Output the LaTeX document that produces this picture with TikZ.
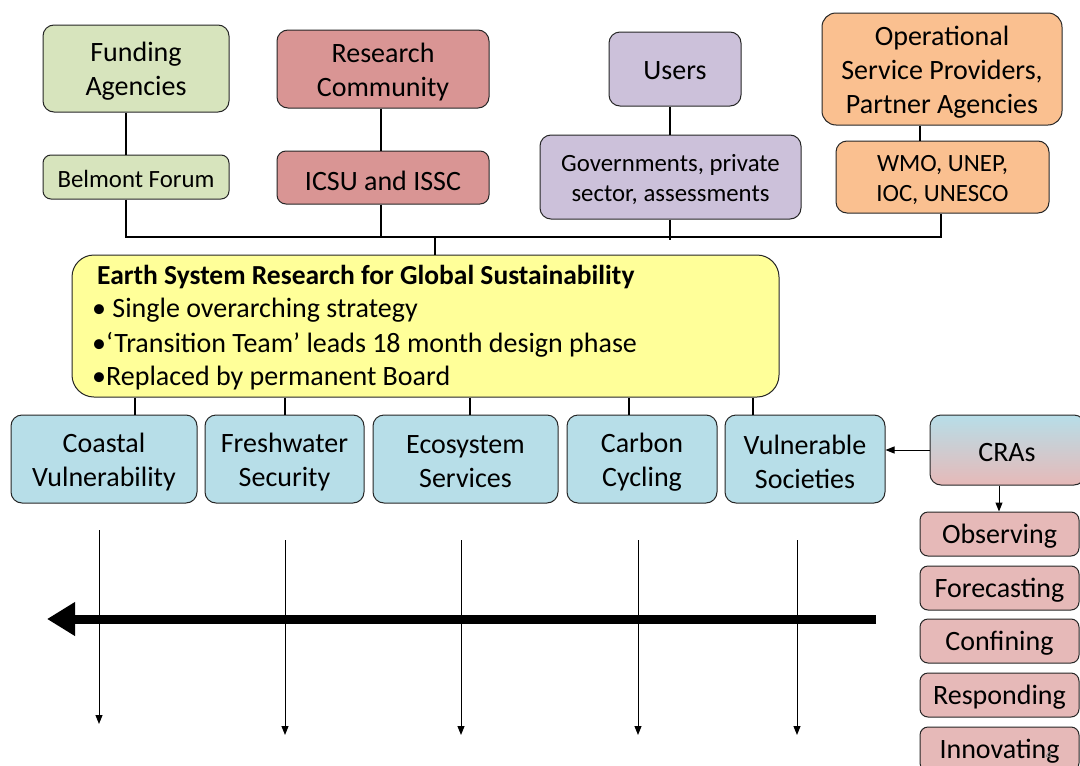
\documentclass[tikz,border=0pt]{standalone}
\usepackage{fontspec}
\setmainfont{Carlito}
\usetikzlibrary{arrows.meta,calc}
\definecolor{cgreen}{HTML}{D7E4BD}
\definecolor{cred}{HTML}{D99594}
\definecolor{clav}{HTML}{CCC1DA}
\definecolor{corange}{HTML}{FAC090}
\definecolor{cyellow}{HTML}{FFFF99}
\definecolor{cblue}{HTML}{B7DEE8}
\definecolor{cpink}{HTML}{E6B9B8}
\definecolor{cborder}{HTML}{262626}
\tikzset{
  box/.style={draw=cborder, line width=1pt, rounded corners=11pt, inner sep=0pt},
  bigtxt/.style={align=center, inner sep=0pt, yshift=-3pt, font=\fontsize{28}{34}\selectfont},
  smalltxt/.style={align=center, inner sep=0pt, yshift=-3pt, font=\fontsize{24.8}{30}\selectfont},
  conn/.style={draw=black, line width=1.3pt},
  thinarrow/.style={draw=black, line width=1pt, -{Triangle[length=9pt,width=7pt]}},
  bigarrow/.style={draw=black, line width=9pt, -{Triangle[length=28pt,width=32pt]}},
  bullettxt/.style={anchor=west, inner sep=0pt, font=\fontsize{28}{30}\selectfont},
}
\begin{document}
\begin{tikzpicture}[x=1pt,y=-1pt]
\useasboundingbox (0,0) rectangle (1080,766);
% top row
\node[box,fill=cgreen,minimum width=186pt,minimum height=87pt,label={[bigtxt]center:{Funding\\Agencies}}] (fund) at (136,68.5) {};
\node[box,fill=cgreen,minimum width=186pt,minimum height=44pt,rounded corners=8pt,label={[smalltxt,yshift=1pt]center:{Belmont Forum}}] (bel) at (136,177) {};
\node[box,fill=cred,minimum width=212pt,minimum height=78pt,label={[bigtxt]center:{Research\\Community}}] (res) at (383,69) {};
\node[box,fill=cred,minimum width=212pt,minimum height=53pt,rounded corners=9pt,label={[bigtxt]center:{ICSU and ISSC}}] (icsu) at (383,177.5) {};
\node[box,fill=clav,minimum width=132pt,minimum height=74pt,label={[bigtxt,yshift=1pt]center:{Users}}] (users) at (675,69) {};
\node[box,fill=clav,minimum width=261pt,minimum height=84pt,label={[smalltxt]center:{Governments, private\\sector, assessments}}] (gov) at (670.5,177) {};
\node[box,fill=corange,minimum width=240pt,minimum height=112pt,rounded corners=14pt,label={[bigtxt]center:{Operational\\Service Providers,\\Partner Agencies}}] (ops) at (942,69) {};
\node[box,fill=corange,minimum width=213pt,minimum height=72pt,label={[smalltxt]center:{WMO, UNEP,\\IOC, UNESCO}}] (wmo) at (942.5,177) {};
% bus
\coordinate (b1) at (126,237);
\coordinate (b2) at (381,237);
\coordinate (b3) at (670,240);
\coordinate (b4) at (941,237);
\coordinate (bm) at (435,237);
\draw[conn] (fund.south -| b1) -- (bel.north -| b1);
\draw[conn] (res.south -| b2) -- (icsu.north -| b2);
\draw[conn] (users.south -| b3) -- (gov.north -| b3);
\draw[conn] (ops.south -| 920,0) -- (wmo.north -| 920,0);
\draw[conn] (bel.south -| b1) -- (b1) -- (b1 -| b4) -- (wmo.south -| b4);
\draw[conn] (icsu.south -| b2) -- (b2);
\draw[conn] (gov.south -| b3) -- (b3);
% main box
\node[box,fill=cyellow,minimum width=707pt,minimum height=142pt,rounded corners=22pt] (main) at (425.5,326) {};
\draw[conn] (bm) -- (main.north -| bm);
\node[anchor=west,inner sep=0pt,font=\fontsize{27.5}{30}\selectfont\bfseries] (title) at (97,277) {Earth System Research for Global Sustainability};
\node[bullettxt] (bl1) at (92,310.5) {• Single overarching strategy};
\node[bullettxt] (bl2) at (92,344.5) {•‘Transition Team’ leads 18 month design phase};
\node[bullettxt] (bl3) at (92,378.5) {•Replaced by permanent Board};
% themes
\node[box,fill=cblue,minimum width=186pt,minimum height=88pt,label={[bigtxt]center:{Coastal\\Vulnerability}}] (coast) at (104,459) {};
\node[box,fill=cblue,minimum width=159pt,minimum height=88pt,label={[bigtxt]center:{Freshwater\\Security}}] (fresh) at (284.5,459) {};
\node[box,fill=cblue,minimum width=185pt,minimum height=88pt,label={[bigtxt]center:{Ecosystem\\Services}}] (eco) at (465.5,459) {};
\node[box,fill=cblue,minimum width=150pt,minimum height=88pt,label={[bigtxt]center:{Carbon\\Cycling}}] (carb) at (642,459) {};
\node[box,fill=cblue,minimum width=160pt,minimum height=88pt,label={[bigtxt]center:{Vulnerable\\Societies}}] (vul) at (805,459) {};
\draw[conn] (main.south -| 135,0) -- (coast.north -| 135,0);
\draw[conn] (main.south -| 285,0) -- (fresh.north -| 285,0);
\draw[conn] (main.south -| 470,0) -- (eco.north -| 470,0);
\draw[conn] (main.south -| 629,0) -- (carb.north -| 629,0);
\draw[conn] (main.south -| 753,0) -- (vul.north -| 753,0);
% CRAs
\node[box,top color=cblue,bottom color=cpink,minimum width=155pt,minimum height=70pt] (cra) at (1007.5,450) {};
\node[bigtxt,yshift=2pt] (cratxt) at (1007,452) {CRAs};
\draw[thinarrow] (cra.west) -- (cra.west -| vul.east);
\node[box,fill=cpink,minimum width=159pt,minimum height=44pt,rounded corners=8pt,label={[bigtxt,yshift=1pt]center:{Observing}}] (obs) at (999.5,534) {};
\node[box,fill=cpink,minimum width=159pt,minimum height=44pt,rounded corners=8pt,label={[bigtxt,yshift=1pt]center:{Forecasting}}] (fore) at (999.5,588) {};
\node[box,fill=cpink,minimum width=159pt,minimum height=44pt,rounded corners=8pt,label={[bigtxt,yshift=1pt]center:{Confining}}] (conf) at (999.5,641) {};
\node[box,fill=cpink,minimum width=159pt,minimum height=44pt,rounded corners=8pt,label={[bigtxt,yshift=1pt]center:{Responding}}] (resp) at (999.5,695) {};
\node[box,fill=cpink,minimum width=159pt,minimum height=44pt,rounded corners=8pt,label={[bigtxt,yshift=1pt]center:{Innovating}}] (innov) at (999.5,749) {};
\draw[thinarrow] (cra.south -| 999,0) -- (obs.north -| 999,0);
\node[text=black!45,font=\fontsize{13}{13}\selectfont,inner sep=0pt] (pgnum) at (1049,755) {4};
% bottom arrows
\coordinate (t1) at (99,530);  \coordinate (e1) at (99,724);
\coordinate (t2) at (285,540); \coordinate (e2) at (285,735);
\coordinate (t3) at (461,540); \coordinate (e3) at (461,735);
\coordinate (t4) at (638,540); \coordinate (e4) at (638,735);
\coordinate (t5) at (797,540); \coordinate (e5) at (797,735);
\draw[thinarrow] (t1) -- (e1);
\draw[thinarrow] (t2) -- (e2);
\draw[thinarrow] (t3) -- (e3);
\draw[thinarrow] (t4) -- (e4);
\draw[thinarrow] (t5) -- (e5);
\coordinate (ha) at (876,619);
\coordinate (hb) at (47,619);
\draw[bigarrow] (ha) -- (hb);
\end{tikzpicture}
\end{document}
